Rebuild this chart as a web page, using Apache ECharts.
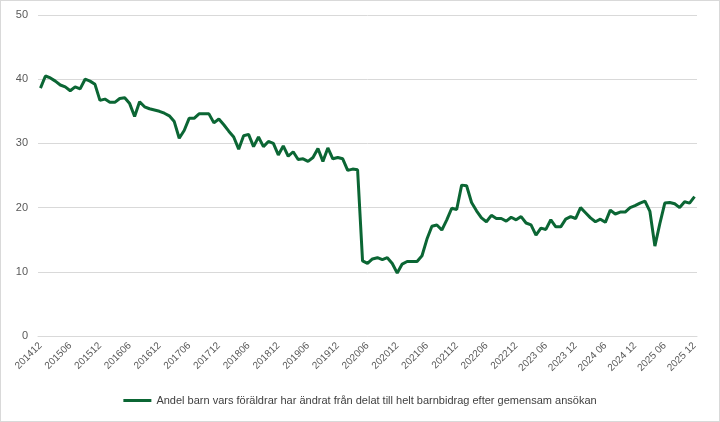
<!DOCTYPE html>
<html>
<head>
<meta charset="utf-8">
<script src="https://cdn.jsdelivr.net/npm/echarts@6/dist/echarts.min.js"></script>
<style>
  html, body { margin: 0; padding: 0; background: #fff; }
  #chart { width: 718px; height: 420px; border: 1px solid #d9d9d9; }
</style>
</head>
<body>
<div id="chart"></div>
<script>
// monthly series, 2014-12 .. 2025-12
const startYear = 2014;
const startMonth = 12;
const seriesName = 'Andel barn vars föräldrar har ändrat från delat till helt barnbidrag efter gemensam ansökan';

const values = [
  38.6, 40.5, 40.2, 39.7, 39.1, 38.8, 38.2, 38.8, 38.5, 40.0, 39.7, 39.2,
  36.7, 36.9, 36.4, 36.4, 37.0, 37.1, 36.2, 34.2, 36.5, 35.7, 35.4, 35.2,
  35.0, 34.7, 34.3, 33.4, 30.8, 32.0, 33.9, 33.9, 34.6, 34.6, 34.6, 33.2,
  33.8, 32.9, 31.9, 31.0, 29.1, 31.2, 31.4, 29.5, 31.0, 29.5, 30.3, 30.0,
  28.2, 29.6, 28.0, 28.7, 27.5, 27.6, 27.2, 27.8, 29.2, 27.2, 29.3, 27.6,
  27.8, 27.6, 25.8, 26.0, 25.9, 11.7, 11.3, 12.0, 12.2, 11.9, 12.2, 11.3,
  9.8, 11.2, 11.6, 11.6, 11.6, 12.5, 15.1, 17.1, 17.3, 16.5, 18.1, 19.9,
  19.7, 23.5, 23.4, 20.8, 19.5, 18.4, 17.8, 18.8, 18.3, 18.3, 17.9, 18.5,
  18.1, 18.6, 17.6, 17.3, 15.7, 16.8, 16.6, 18.1, 17.0, 17.0, 18.2, 18.6,
  18.3, 20.0, 19.2, 18.4, 17.8, 18.2, 17.7, 19.6, 19.0, 19.3, 19.3, 20.0,
  20.3, 20.7, 21.0, 19.4, 14.0, 17.5, 20.7, 20.8, 20.6, 20.0, 20.9, 20.7,
  21.7
];

// category labels: YYYYMM up to 2022, "YYYY MM" from 2023
const categories = [];
for (let k = 0; k < values.length; k++) {
  const m = startMonth - 1 + k;
  const y = startYear + Math.floor(m / 12);
  const mm = String(m % 12 + 1).padStart(2, '0');
  categories.push(y >= 2023 ? y + ' ' + mm : '' + y + mm);
}

const yTicks = [0, 10, 20, 30, 40, 50];

const chart = echarts.init(document.getElementById('chart'));
chart.setOption({
  animation: false,
  textStyle: { fontFamily: 'Liberation Sans' },
  grid: {
    left: 37,
    right: 22,
    top: 14,
    bottom: 85
  },
  legend: {
    bottom: 10,
    left: 'center',
    icon: 'rect',
    itemWidth: 28,
    itemHeight: 3,
    textStyle: { color: '#404040', fontSize: 11 },
    data: [seriesName]
  },
  xAxis: {
    type: 'category',
    data: categories,
    boundaryGap: true,
    axisLine: { lineStyle: { color: '#d9d9d9' } },
    axisTick: { show: false },
    axisLabel: {
      interval: 5,
      rotate: 45,
      color: '#595959',
      fontSize: 10,
      margin: 8
    }
  },
  yAxis: {
    type: 'value',
    min: yTicks[0],
    max: yTicks[yTicks.length - 1],
    interval: 10,
    axisLine: { show: false },
    axisTick: { show: false },
    axisLabel: { color: '#595959', fontSize: 11, margin: 10 },
    splitLine: { lineStyle: { color: '#d9d9d9', width: 1 } }
  },
  series: [{
    name: seriesName,
    type: 'line',
    data: values,
    showSymbol: false,
    lineStyle: { color: '#0b6634', width: 3 },
    itemStyle: { color: '#0b6634' }
  }]
});
</script>
</body>
</html>
